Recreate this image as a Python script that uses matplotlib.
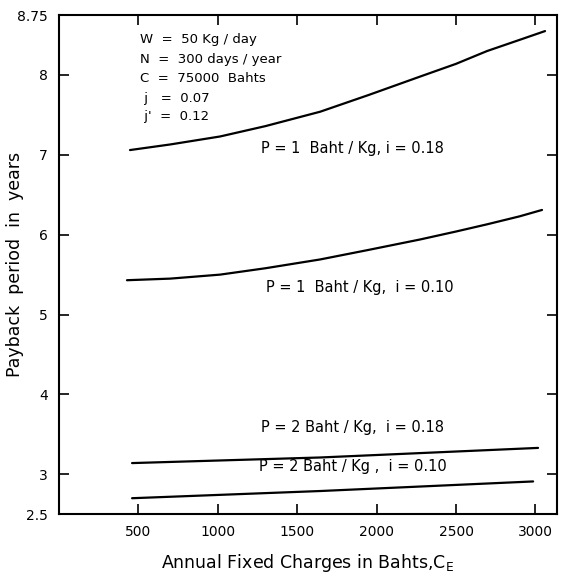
import numpy as np
import matplotlib
matplotlib.use('Agg')
import matplotlib.pyplot as plt

# annual fixed charges (Bahts) and payback period (years)
x_a = [447, 700, 1014, 1300, 1644, 1950, 2273, 2500, 2695, 2900, 3060]
y_a = [7.06, 7.13, 7.23, 7.36, 7.54, 7.75, 7.98, 8.14, 8.30, 8.44, 8.55]   # P = 1, i = 0.18

x_b = [428, 700, 1014, 1300, 1644, 1950, 2273, 2500, 2695, 2900, 3041]
y_b = [5.43, 5.45, 5.50, 5.58, 5.69, 5.81, 5.94, 6.04, 6.13, 6.23, 6.31]   # P = 1, i = 0.10

x_c = [460, 1644, 3016]
y_c = [3.14, 3.21, 3.33]                     # P = 2, i = 0.18

x_d = [460, 1644, 2985]
y_d = [2.70, 2.79, 2.91]                     # P = 2, i = 0.10

labels = ['P = 1  Baht / Kg, i = 0.18', 'P = 1  Baht / Kg,  i = 0.10',
          'P = 2 Baht / Kg,  i = 0.18', 'P = 2 Baht / Kg ,  i = 0.10']
params = ['W  =  50 Kg / day', 'N  =  300 days / year', 'C  =  75000  Bahts',
          ' j   =  0.07', " j'  =  0.12"]

xticks = [500, 1000, 1500, 2000, 2500, 3000]
yticks = [2.5, 3, 4, 5, 6, 7, 8, 8.75]
ytick_lbl = ['2.5', '3', '4', '5', '6', '7', '8', '8.75']

plt.rcParams['font.family'] = 'DejaVu Sans'
fig = plt.figure(figsize=(5.62, 5.81), dpi=100)
ax = fig.add_axes([0.105, 0.115, 0.886, 0.859])

for xs, ys in [(x_a, y_a), (x_b, y_b), (x_c, y_c), (x_d, y_d)]:
    ax.plot(xs, ys, color='black', lw=1.6, solid_capstyle='round')

ax.text(1850, 7.08, labels[0], ha='center', va='center', fontsize=10.5)
ax.text(1895, 5.34, labels[1], ha='center', va='center', fontsize=10.5)
ax.text(1850, 3.58, labels[2], ha='center', va='center', fontsize=10.5)
ax.text(1850, 3.10, labels[3], ha='center', va='center', fontsize=10.5)

py = [8.45, 8.20, 7.95, 7.71, 7.48]
for t, yy in zip(params, py):
    ax.text(510, yy, t, ha='left', va='center', fontsize=9.5)

ax.set_xlim(0, 3135)
ax.set_ylim(2.5, 8.75)
ax.set_xticks(xticks)
ax.set_xticklabels([str(v) for v in xticks])
ax.set_yticks(yticks)
ax.set_yticklabels(ytick_lbl)
ax.tick_params(direction='in', length=7, width=1.2, top=True, right=True,
               labelsize=10, pad=8)
for s in ax.spines.values():
    s.set_linewidth(1.5)

ax.set_xlabel(r'Annual Fixed Charges in Bahts,$\mathregular{C_E}$', fontsize=12.5, labelpad=9)
ax.set_ylabel('Payback  period  in  years', fontsize=12.5)
ax.yaxis.set_label_coords(-0.07, 0.5)

plt.savefig('out.png', dpi=100)
